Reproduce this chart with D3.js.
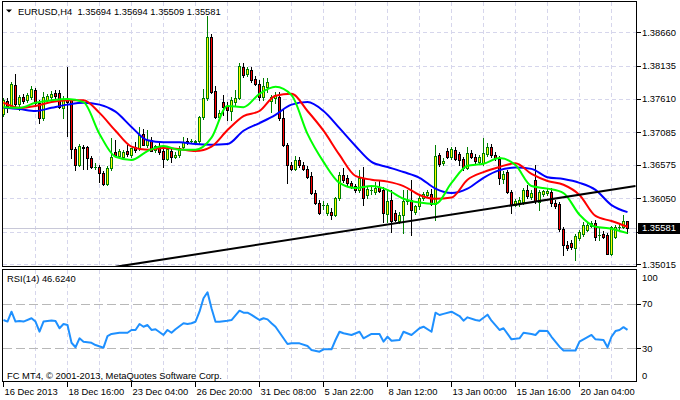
<!DOCTYPE html>
<html><head><meta charset="utf-8">
<script src="https://cdn.jsdelivr.net/npm/d3@7"></script>
<style>
html,body{margin:0;padding:0;background:#fff;}
svg{display:block;}
</style></head><body>
<svg id="c" width="680" height="400"></svg>
<script>
// ---------------- DATA ----------------
const chartTitle = "EURUSD,H4";
const titleOHLC = [1.35694, 1.35694, 1.35509, 1.35581];
const open = [1.3737,1.3758,1.3750,1.3783,1.3753,1.3764,1.3759,1.3764,1.3775,1.3755,
1.3731,1.3759,1.3764,1.3770,1.3770,1.3747,1.3761,1.3759,1.3682,1.3657,
1.3686,1.3686,1.3668,1.3654,1.3654,1.3645,1.3628,1.3653,1.3678,1.3671,
1.3670,1.3679,1.3673,1.3686,1.3684,1.3706,1.3689,1.3696,1.3681,1.3687,
1.3679,1.3667,1.3679,1.3670,1.3673,1.3686,1.3695,1.3695,1.3693,1.3695,
1.3733,1.3762,1.3858,1.3773,1.3733,1.3756,1.3750,1.3742,1.3756,1.3762,
1.3811,1.3800,1.3807,1.3792,1.3785,1.3764,1.3780,1.3758,1.3762,1.3764,
1.3731,1.3689,1.3657,1.3651,1.3665,1.3657,1.3651,1.3640,1.3613,1.3598,
1.3595,1.3582,1.3583,1.3579,1.3606,1.3642,1.3637,1.3629,1.3624,1.3618,
1.3637,1.3610,1.3618,1.3615,1.3623,1.3618,1.3580,1.3602,1.3582,1.3569,
1.3579,1.3601,1.3602,1.3583,1.3592,1.3606,1.3610,1.3612,1.3596,1.3673,
1.3660,1.3679,1.3670,1.3681,1.3675,1.3667,1.3653,1.3676,1.3670,1.3662,
1.3660,1.3675,1.3686,1.3673,1.3667,1.3635,1.3646,1.3615,1.3595,1.3598,
1.3599,1.3618,1.3607,1.3634,1.3599,1.3612,1.3613,1.3615,1.3598,1.3596,
1.3557,1.3532,1.3535,1.3527,1.3543,1.3549,1.3555,1.3562,1.3566,1.3547,
1.3549,1.3547,1.3517,1.3544,1.3560,1.3560,1.35694];
const high = [1.3762,1.3762,1.3788,1.3800,1.3767,1.3769,1.3770,1.3781,1.3778,1.3759,
1.3772,1.3769,1.3773,1.3775,1.3775,1.3766,1.3811,1.3761,1.3686,1.3690,
1.3689,1.3687,1.3671,1.3660,1.3657,1.3648,1.3656,1.3700,1.3696,1.3682,
1.3681,1.3689,1.3684,1.3693,1.3717,1.3714,1.3712,1.3701,1.3689,1.3692,
1.3684,1.3687,1.3684,1.3678,1.3687,1.3701,1.3700,1.3698,1.3696,1.3734,
1.3777,1.3891,1.3863,1.3781,1.3744,1.3767,1.3756,1.3764,1.3775,1.3817,
1.3817,1.3811,1.3811,1.3797,1.3791,1.3794,1.3794,1.3767,1.3772,1.3772,
1.3744,1.3692,1.3662,1.3671,1.3670,1.3662,1.3656,1.3646,1.3618,1.3602,
1.3601,1.3598,1.3590,1.3607,1.3646,1.3653,1.3642,1.3632,1.3628,1.3649,
1.3654,1.3624,1.3623,1.3631,1.3634,1.3623,1.3618,1.3618,1.3586,1.3583,
1.3618,1.3618,1.3634,1.3595,1.3609,1.3615,1.3618,1.3620,1.3689,1.3676,
1.3668,1.3684,1.3686,1.3686,1.3678,1.3670,1.3686,1.3681,1.3675,1.3673,
1.3700,1.3692,1.3690,1.3678,1.3671,1.3648,1.3649,1.3618,1.3604,1.3607,
1.3621,1.3626,1.3618,1.3657,1.3618,1.3618,1.3620,1.3621,1.3602,1.3599,
1.3560,1.3538,1.3539,1.3549,1.3555,1.3568,1.3568,1.3569,1.3571,1.3558,
1.3553,1.3550,1.3562,1.3563,1.3565,1.3579,1.35694];
const low = [1.3734,1.3741,1.3748,1.3750,1.3744,1.3755,1.3756,1.3761,1.3750,1.3723,
1.3728,1.3756,1.3761,1.3762,1.3747,1.3731,1.3703,1.3668,1.3649,1.3656,
1.3651,1.3651,1.3653,1.3651,1.3631,1.3626,1.3626,1.3649,1.3671,1.3668,
1.3667,1.3671,1.3670,1.3678,1.3681,1.3689,1.3686,1.3679,1.3678,1.3675,
1.3654,1.3665,1.3662,1.3668,1.3670,1.3682,1.3690,1.3692,1.3692,1.3692,
1.3730,1.3759,1.3770,1.3731,1.3730,1.3736,1.3728,1.3728,1.3752,1.3761,
1.3796,1.3797,1.3788,1.3783,1.3759,1.3759,1.3772,1.3741,1.3755,1.3728,
1.3687,1.3629,1.3649,1.3649,1.3654,1.3649,1.3637,1.3612,1.3596,1.3580,
1.3588,1.3579,1.3572,1.3577,1.3602,1.3631,1.3626,1.3621,1.3615,1.3615,
1.3595,1.3606,1.3612,1.3612,1.3615,1.3568,1.3568,1.3552,1.3569,1.3566,
1.3550,1.3596,1.3547,1.3580,1.3588,1.3602,1.3607,1.3595,1.3571,1.3656,
1.3657,1.3668,1.3667,1.3665,1.3657,1.3649,1.3651,1.3668,1.3660,1.3659,
1.3657,1.3671,1.3670,1.3665,1.3628,1.3629,1.3613,1.3582,1.3592,1.3593,
1.3596,1.3606,1.3604,1.3598,1.3586,1.3609,1.3610,1.3592,1.3590,1.3553,
1.3516,1.3524,1.3525,1.3508,1.3539,1.3546,1.3553,1.3560,1.3539,1.3539,
1.3543,1.3517,1.3516,1.3543,1.3555,1.3558,1.35509];
const close = [1.3759,1.3750,1.3785,1.3753,1.3764,1.3758,1.3767,1.3777,1.3755,1.3731,
1.3764,1.3766,1.3769,1.3766,1.3748,1.3759,1.3756,1.3682,1.3657,1.3687,
1.3684,1.3668,1.3654,1.3654,1.3645,1.3628,1.3653,1.3670,1.3673,1.3679,
1.3678,1.3675,1.3684,1.3681,1.3704,1.3689,1.3696,1.3679,1.3687,1.3678,
1.3667,1.3682,1.3670,1.3673,1.3684,1.3693,1.3693,1.3695,1.3695,1.3733,
1.3762,1.3858,1.3772,1.3733,1.3739,1.3748,1.3744,1.3759,1.3762,1.3813,
1.3799,1.3808,1.3791,1.3785,1.3764,1.3781,1.3788,1.3764,1.3767,1.3731,
1.3689,1.3657,1.3651,1.3665,1.3657,1.3651,1.3638,1.3613,1.3598,1.3582,
1.3595,1.3595,1.3579,1.3606,1.3642,1.3634,1.3629,1.3623,1.3618,1.3637,
1.3606,1.3620,1.3618,1.3621,1.3617,1.3582,1.3601,1.3569,1.3571,1.3579,
1.3601,1.3602,1.3586,1.3592,1.3606,1.3612,1.3615,1.3596,1.3671,1.3659,
1.3663,1.3670,1.3682,1.3667,1.3665,1.3653,1.3676,1.3670,1.3663,1.3670,
1.3676,1.3686,1.3673,1.3668,1.3637,1.3643,1.3615,1.3595,1.3601,1.3602,
1.3618,1.3609,1.3613,1.3601,1.3615,1.3617,1.3617,1.3598,1.3593,1.3557,
1.3532,1.3527,1.3528,1.3546,1.3552,1.3563,1.3563,1.3566,1.3544,1.3547,
1.3544,1.3517,1.3560,1.3560,1.3560,1.3569,1.35581];

// moving averages, read every 4 bars
const maBars = [0,4,8,12,16,20,24,28,32,36,40,44,48,52,56,60,64,68,72,76,
80,84,88,92,96,100,104,108,112,116,120,124,128,132,136,140,144,148,152,156];
const maSlow = [1.3747,1.3745,1.3742,1.3747,1.3752,1.3755,1.3752,1.3741,1.3717,1.3696,
1.3693,1.3693,1.3690,1.3689,1.3690,1.3711,1.3723,1.3736,1.3752,1.3756,
1.3742,1.3715,1.3687,1.3662,1.3654,1.3646,1.3637,1.3620,1.3613,1.3620,
1.3637,1.3649,1.3653,1.3651,1.3638,1.3635,1.3629,1.3618,1.3594,1.3583];
const maMid = [1.3755,1.3747,1.3750,1.3756,1.3759,1.3759,1.3739,1.3711,1.3686,1.3681,
1.3684,1.3682,1.3679,1.3686,1.3712,1.3734,1.3742,1.3766,1.3769,1.3742,
1.3711,1.3673,1.3640,1.3634,1.3631,1.3624,1.3610,1.3604,1.3606,1.3634,
1.3646,1.3654,1.3660,1.3643,1.3632,1.3626,1.3610,1.3577,1.3569,1.3560];
const maFast = [1.3748,1.3747,1.3755,1.3759,1.3761,1.3756,1.3706,1.3670,1.3665,1.3679,
1.3687,1.3681,1.3681,1.3700,1.3750,1.3748,1.3769,1.3780,1.3767,1.3706,
1.3662,1.3629,1.3621,1.3624,1.3618,1.3604,1.3598,1.3596,1.3629,1.3656,
1.3659,1.3668,1.3657,1.3624,1.3620,1.3613,1.3579,1.3560,1.3557,1.3550];

// trend line (bar index, price)
const trendBars = [28, 158];
const trendPrices = [1.3497, 1.3624];

// RSI(14)
const rsiBars = [0,1,2,3,4,5,7,8,9,10,
12,13,14,15,16,17,18,19,20,22,
23,25,26,27,29,31,32,33,34,35,
36,37,38,40,41,42,43,45,46,47,
48,49,50,51,52,53,54,56,57,59,
60,61,62,64,65,66,67,68,71,72,
74,76,77,79,80,82,83,84,85,87,
89,90,92,94,95,96,97,99,100,102,
104,105,107,108,109,110,112,114,115,116,
118,119,121,122,124,125,127,129,130,132,
133,134,136,137,139,140,143,144,145,147,
148,150,151,152,153,154,155,156];
const rsiValues = [55.4,54,62.9,54,54.5,54,57,54,45,54,
55,54.5,48,51.8,51,35,31,39,36,35,
33,30.6,41,42.9,44,44,46.5,46.5,51.8,49.4,
50.9,46.5,47.1,42,46.5,44,47.1,52.5,51.8,52.5,
53.9,62.9,74.9,80.3,66,53.9,53.9,54.8,55.4,63.8,
62,62,60,55.4,57,56,52.5,49.4,33.9,34.5,
34.5,32.1,28.5,27,29.1,29.1,37.5,44.9,43.5,42,
44.9,39,42.9,42.9,36,40.4,36.8,37.5,44.9,42,
48,49.4,44.9,62,59.9,60.9,62.9,59,54.8,57.8,
55.4,54.8,60.2,54.8,46.5,48,38.1,39,44,42.9,
42,45.8,45.5,40.4,31.5,28.1,28.1,36,38.1,42,
38.1,37.5,30.9,40.4,45.5,46.5,49,46.624];
const rsiLast = 46.6240;

const priceTicks = [1.38660,1.38135,1.37610,1.37085,1.36575,1.36050,1.35525,1.35015];
const hiddenPriceLabels = [1.35525]; // covered by the current-price box in the reference
const rsiTicks = [100,70,30,0];
const rsiLevels = [70,30];
const dateBars = [0,16,32,48,64,80,96,112,128,144];
const dateLabels = ["16 Dec 2013","18 Dec 16:00","23 Dec 04:00","26 Dec 20:00","31 Dec 08:00",
"5 Jan 22:00","8 Jan 12:00","13 Jan 00:00","15 Jan 16:00","20 Jan 04:00"];
const copyright = "FC MT4, \u00A9 2001-2013, MetaQuotes Software Corp.";

// ---------------- LAYOUT ----------------
const FONT = "'Liberation Sans', Arial, sans-serif";
const FS = 9.4;
const L = 2.5, R = 636.5, T = 1.5, B = 266.5, RT = 269.5, RB = 381.5;
const svg = d3.select("#c");
svg.append("rect").attr("width",680).attr("height",400).attr("fill","#fff");

const x = d3.scaleLinear().domain([0,156]).range([3.5,627.5]);
const y = d3.scaleLinear().domain([1.35015,1.38660]).range([264,32.1]);
const ry = d3.scaleLinear().domain([0,100]).range([381.8,270.3]);

const defs = svg.append("defs");
defs.append("clipPath").attr("id","cpMain").append("rect")
  .attr("x",L+0.5).attr("y",T+0.5).attr("width",R-L-1).attr("height",B-T-1);
defs.append("clipPath").attr("id","cpRsi").append("rect")
  .attr("x",L+0.5).attr("y",RT+0.5).attr("width",R-L-1).attr("height",RB-RT-1);

// grid
const gridColor = "#d6d6ec";
const vBars = d3.range(8, 157, 8);
const grid = svg.append("g").attr("shape-rendering","crispEdges")
  .attr("stroke",gridColor).attr("stroke-dasharray","4,3");
grid.selectAll("line.vm").data(vBars).join("line").attr("class","vm")
  .attr("x1",d=>x(d)).attr("x2",d=>x(d)).attr("y1",T).attr("y2",B);
grid.selectAll("line.vr").data(vBars).join("line").attr("class","vr")
  .attr("x1",d=>x(d)).attr("x2",d=>x(d)).attr("y1",RT).attr("y2",RB);
grid.selectAll("line.hm").data(priceTicks).join("line").attr("class","hm")
  .attr("x1",L).attr("x2",R).attr("y1",d=>Math.round(y(d))+0.5).attr("y2",d=>Math.round(y(d))+0.5);

// bid line
const lastClose = close[close.length-1];
svg.append("line").attr("shape-rendering","crispEdges")
  .attr("x1",L).attr("x2",R).attr("y1",Math.round(y(lastClose))+0.5).attr("y2",Math.round(y(lastClose))+0.5)
  .attr("stroke","#c8c8d8");

// candles
const n = Math.min(open.length, high.length, low.length, close.length);
const bars = d3.range(n).map(i=>({i, o:open[i], h:high[i], l:low[i], c:close[i]}));
const cg = svg.append("g").attr("clip-path","url(#cpMain)").attr("shape-rendering","crispEdges");
cg.selectAll("line.wick").data(bars).join("line").attr("class","wick")
  .attr("x1",d=>x(d.i)).attr("x2",d=>x(d.i))
  .attr("y1",d=>Math.round(y(d.h))).attr("y2",d=>Math.round(y(d.l))+1)
  .attr("stroke",d=>d.c>=d.o ? "#008000" : "#000");
cg.selectAll("rect.body").data(bars).join("rect").attr("class","body")
  .attr("x",d=>x(d.i)-1).attr("width",2)
  .attr("y",d=>Math.round(y(Math.max(d.o,d.c)))+0.5)
  .attr("height",d=>Math.max(0.01, Math.round(y(Math.min(d.o,d.c))) - Math.round(y(Math.max(d.o,d.c)))))
  .attr("fill",d=>d.c>=d.o ? "#ffff00" : "#ff0000")
  .attr("stroke",d=>d.c>=d.o ? "#008000" : "#000");

// moving averages
const mg = svg.append("g").attr("clip-path","url(#cpMain)").attr("fill","none").attr("stroke-width",2);
const maLine = d3.line().x((d,k)=>x(maBars[k])).y(d=>y(d)).curve(d3.curveMonotoneX);
mg.append("path").attr("d",maLine(maSlow)).attr("stroke","#0000ff");
mg.append("path").attr("d",maLine(maMid)).attr("stroke","#ff0000");
mg.append("path").attr("d",maLine(maFast)).attr("stroke","#00ff00");

// trend line
const tl = d3.line().x((d,k)=>x(trendBars[k])).y(d=>y(d));
mg.append("path").attr("d",tl(trendPrices)).attr("stroke","#000").attr("stroke-width",2);

// RSI
const rg = svg.append("g").attr("clip-path","url(#cpRsi)");
rg.selectAll("line.lvl").data(rsiLevels).join("line").attr("class","lvl")
  .attr("shape-rendering","crispEdges")
  .attr("x1",L).attr("x2",R).attr("y1",d=>Math.round(ry(d))+0.5).attr("y2",d=>Math.round(ry(d))+0.5)
  .attr("stroke","#b8b8b8").attr("stroke-dasharray","9,4");
const rsiLine = d3.line().x((d,k)=>x(rsiBars[k])).y(d=>ry(d));
rg.append("path").attr("d",rsiLine(rsiValues)).attr("fill","none")
  .attr("stroke","#1e90ff").attr("stroke-width",2).attr("stroke-linejoin","round");

// panel frames
svg.append("g").attr("shape-rendering","crispEdges").attr("fill","none").attr("stroke","#000")
  .call(g=>{
    g.append("rect").attr("x",L).attr("y",T).attr("width",R-L).attr("height",B-T);
    g.append("rect").attr("x",L).attr("y",RT).attr("width",R-L).attr("height",RB-RT);
  });

// price axis
const fmtP = d3.format(".5f");
const gy = svg.append("g").attr("transform",`translate(${R},0)`)
  .call(d3.axisRight(y).tickValues(priceTicks)
    .tickFormat(d=>hiddenPriceLabels.includes(d) ? "" : fmtP(d)).tickSize(4).tickPadding(1.5));
gy.select(".domain").remove();
gy.attr("font-family",FONT).attr("font-size",FS);
gy.selectAll(".tick line").attr("stroke","#000").attr("shape-rendering","crispEdges");
gy.selectAll(".tick text").attr("fill","#000");

// current price box
const ly = Math.round(y(lastClose));
svg.append("rect").attr("x",R+1).attr("y",ly-5.5).attr("width",44).attr("height",11).attr("fill","#000")
  .attr("shape-rendering","crispEdges");
svg.append("text").attr("x",R+5.5).attr("y",ly).attr("dy","0.35em")
  .attr("font-family",FONT).attr("font-size",FS).attr("fill","#fff")
  .text(fmtP(lastClose));

// RSI axis
const gr = svg.append("g").attr("transform",`translate(${R},0)`)
  .call(d3.axisRight(ry).tickValues(rsiTicks).tickSize(4).tickPadding(1.5));
gr.select(".domain").remove();
gr.attr("font-family",FONT).attr("font-size",FS);
gr.selectAll(".tick line").attr("stroke","#000").attr("shape-rendering","crispEdges")
  .attr("opacity",d=>(d===100||d===0)?0:1);
gr.selectAll(".tick text").attr("fill","#000")
  .attr("y",d=>d===100?7:(d===0?-6:0));

// date axis
const gx = svg.append("g").attr("transform",`translate(-1,${RB})`)
  .call(d3.axisBottom(x).tickValues(dateBars).tickFormat((d,k)=>dateLabels[k]).tickSize(5).tickPadding(2));
gx.select(".domain").remove();
gx.attr("font-family",FONT).attr("font-size",FS);
gx.selectAll(".tick line").attr("stroke","#000").attr("shape-rendering","crispEdges");
gx.selectAll(".tick text").attr("fill","#000").attr("text-anchor","start").attr("x",1.5);

// title
svg.append("path").attr("d","M6,9.5L12,9.5L9,12.5Z").attr("fill","#000");
svg.append("text").attr("x",18).attr("y",14.5).attr("font-family",FONT).attr("font-size",FS)
  .attr("fill","#000").style("white-space","pre")
  .text(chartTitle + "  " + titleOHLC.map(fmtP).join(" "));

// RSI label and copyright
svg.append("text").attr("x",7).attr("y",281.5).attr("font-family",FONT).attr("font-size",FS)
  .attr("fill","#000").text("RSI(14) " + d3.format(".4f")(rsiLast));
svg.append("text").attr("x",7).attr("y",378.5).attr("font-family",FONT).attr("font-size",FS)
  .attr("fill","#000").text(copyright);
</script>
</body></html>
